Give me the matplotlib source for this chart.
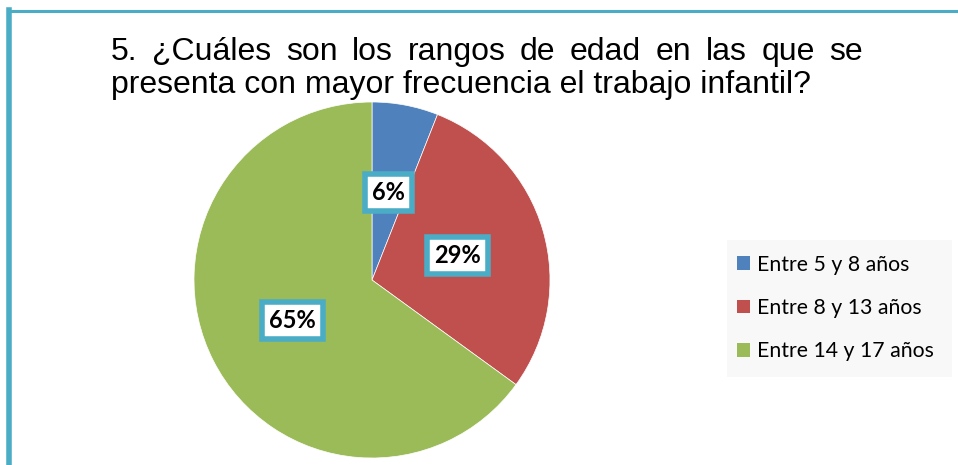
"""Pie chart: rangos de edad del trabajo infantil."""

import matplotlib.pyplot as plt
from matplotlib.patches import Rectangle
from matplotlib.lines import Line2D

title_line1 = "5. ¿Cuáles son los rangos de edad en las que se"
title_line2 = "presenta con mayor frecuencia el trabajo infantil?"
categories = ["Entre 5 y 8 años", "Entre 8 y 13 años", "Entre 14 y 17 años"]
values = [6, 29, 65]
colors = ["#4F81BD", "#C0504D", "#9BBB59"]
teal = "#4BACC6"

W, H = 958, 465
fig = plt.figure(figsize=(W / 100, H / 100), dpi=100)
fig.patch.set_facecolor("white")

# frame lines (top and left)
fig.add_artist(Line2D([8 / W, 1], [1 - 11 / H, 1 - 11 / H], color=teal, lw=2.2,
                      transform=fig.transFigure))
fig.add_artist(Line2D([8.5 / W, 8.5 / W], [0, 1 - 10 / H], color=teal, lw=4,
                      transform=fig.transFigure))

# --- title, first line justified between x=111 and x=863 ---
fs = 23
fam = "Liberation Sans"
renderer = fig.canvas.get_renderer()
words = title_line1.split(" ")
texts = [fig.text(0, 1 - 60 / H, w, fontsize=fs, family=fam, color="black",
                  va="baseline", ha="left") for w in words]
widths = [t.get_window_extent(renderer).width for t in texts]
x0, x1 = 111, 863
gap = (x1 - x0 - sum(widths)) / (len(words) - 1)
x = x0
for t, w in zip(texts, widths):
    t.set_x(x / W)
    x += w + gap
fig.text(x0 / W, 1 - 93 / H, title_line2, fontsize=fs, family=fam,
         color="black", va="baseline", ha="left")

# --- pie ---
cx, cy, r = 372, 280, 178
ax = fig.add_axes([(cx - r) / W, (H - cy - r) / H, 2 * r / W, 2 * r / H])
wedges, _, autotexts = ax.pie(values, colors=colors, startangle=90, counterclock=False,
                              autopct="%1.0f%%", pctdistance=0.5,
                              wedgeprops=dict(linewidth=0.5, edgecolor="white"))
for t in autotexts:
    t.set_fontsize(17)
    t.set_fontweight("bold")
    t.set_family("Lato")
    t.set_bbox(dict(boxstyle="square,pad=0.3", facecolor="white",
                    edgecolor=teal, linewidth=4))
ax.set_xlim(-1, 1)
ax.set_ylim(-1, 1)
ax.set_aspect("equal")

# --- legend ---
fig.add_artist(Rectangle((727 / W, 1 - 377 / H), 225 / W, 137 / H,
                         transform=fig.transFigure, facecolor="#F8F8F8",
                         edgecolor="none"))
leg = fig.legend(wedges, categories, loc="center left",
                 bbox_to_anchor=(718 / W, 1 - 308 / H), frameon=False,
                 prop=dict(family="Lato", size=15.3), handlelength=0.6,
                 handleheight=0.6, handletextpad=0.35, labelspacing=1.1)
for h in leg.legend_handles:
    h.set_edgecolor("none")

plt.savefig("out.png", dpi=100)
